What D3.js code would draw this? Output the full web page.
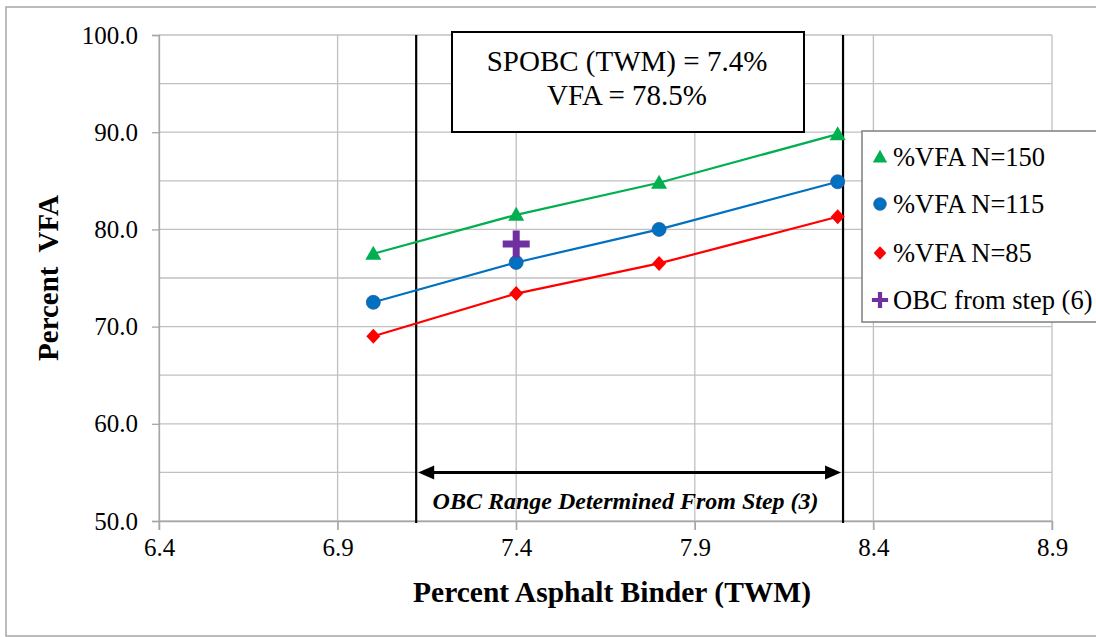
<!DOCTYPE html>
<html><head><meta charset="utf-8">
<script src="https://cdn.jsdelivr.net/npm/d3@7"></script>
<style>body{margin:0;background:#fff}svg{display:block}</style>
</head><body>
<svg id="c" width="1096" height="637" font-family="Liberation Serif"></svg>
<script>
const binder = [7.0, 7.4, 7.8, 8.3];
const vfa150 = [77.5, 81.5, 84.8, 89.8];
const vfa115 = [72.5, 76.6, 80.0, 84.9];
const vfa85 = [69.0, 73.4, 76.5, 81.3];
const obcPoint = [{x: 7.4, y: 78.5}];
const obcRange = [7.12, 8.315];
const xTicks = [6.4, 6.9, 7.4, 7.9, 8.4, 8.9];
const yTicks = [50, 60, 70, 80, 90, 100];
const yGrid = [55, 65, 75, 85, 95];
const seriesNames = ["%VFA N=150", "%VFA N=115", "%VFA N=85", "OBC from step (6)"];
const annotation = ["SPOBC (TWM) = 7.4%", "VFA = 78.5%"];
const rangeLabel = "OBC Range Determined From Step (3)";

const FONT = "Liberation Serif";
const svg = d3.select("#c");
const x = d3.scaleLinear().domain([6.4, 8.9]).range([159, 1052]);
const y = d3.scaleLinear().domain([50, 100]).range([521, 35]);
const gridC = "#c0c0c0";

// outer border
svg.append("rect").attr("x", 6).attr("y", 7).attr("width", 1100).attr("height", 629)
  .attr("fill", "none").attr("stroke", "#a6a6a6").attr("stroke-width", 1.5);

// gridlines
svg.append("g").selectAll("line").data(yTicks.concat(yGrid)).join("line")
  .attr("x1", x(6.4)).attr("x2", x(8.9)).attr("y1", d => y(d)).attr("y2", d => y(d))
  .attr("stroke", gridC).attr("stroke-width", 1.3);
svg.append("g").selectAll("line").data(xTicks).join("line")
  .attr("x1", d => x(d)).attr("x2", d => x(d)).attr("y1", y(100)).attr("y2", y(50) + 9)
  .attr("stroke", gridC).attr("stroke-width", 1.3);

// axes
const yAxis = d3.axisLeft(y).tickValues(yTicks).tickSize(7).tickFormat(d3.format(".1f"));
const gy = svg.append("g").attr("transform", `translate(${x(6.4)},0)`).call(yAxis).attr("font-family", FONT);
gy.select(".domain").attr("stroke", "#a6a6a6").attr("stroke-width", 1.3);
gy.selectAll(".tick line").attr("stroke", "#a6a6a6").attr("stroke-width", 1.3);
gy.selectAll(".tick text").attr("font-size", 25).attr("x", -21).attr("font-family", FONT).attr("fill", "#000");

const xAxis = d3.axisBottom(x).tickValues(xTicks).tickSize(9).tickFormat(d3.format(".1f"));
const gx = svg.append("g").attr("transform", `translate(0,${y(50)})`).call(xAxis).attr("font-family", FONT);
gx.select(".domain").attr("stroke", "#a6a6a6").attr("stroke-width", 1.3);
gx.selectAll(".tick line").attr("stroke", "#a6a6a6").attr("stroke-width", 1.3);
gx.selectAll(".tick text").attr("font-size", 25).attr("y", 17).attr("font-family", FONT).attr("fill", "#000");

// range vertical lines
svg.append("g").selectAll("line").data(obcRange).join("line")
  .attr("x1", d => x(d)).attr("x2", d => x(d)).attr("y1", y(100)).attr("y2", y(50) + 2)
  .attr("stroke", "#000").attr("stroke-width", 2.2);

// arrow
const ay = y(55);
const ax1 = x(obcRange[0]) + 2, ax2 = x(obcRange[1]) - 2;
svg.append("line").attr("x1", ax1 + 12).attr("x2", ax2 - 12).attr("y1", ay).attr("y2", ay)
  .attr("stroke", "#000").attr("stroke-width", 3);
svg.append("path").attr("d", `M${ax1},${ay}L${ax1 + 16},${ay - 7}L${ax1 + 16},${ay + 7}Z`).attr("fill", "#000");
svg.append("path").attr("d", `M${ax2},${ay}L${ax2 - 16},${ay - 7}L${ax2 - 16},${ay + 7}Z`).attr("fill", "#000");
svg.append("text").attr("x", (x(obcRange[0]) + x(obcRange[1])) / 2 - 4).attr("y", 509)
  .attr("text-anchor", "middle").attr("font-family", FONT).attr("font-size", 24).attr("font-weight", "bold").attr("font-style", "italic")
  .text(rangeLabel);

// series
const series = [
  {vals: vfa150, color: "#00b050", shape: "tri"},
  {vals: vfa115, color: "#0070c0", shape: "circ"},
  {vals: vfa85, color: "#ff0000", shape: "diam"}
];
const line = d3.line().x(d => x(d[0])).y(d => y(d[1]));
function marker(g, shape, color, cx, cy, s) {
  if (shape === "tri") {
    g.append("path").attr("d", `M${cx},${cy - 8 * s}L${cx + 8 * s},${cy + 6 * s}L${cx - 8 * s},${cy + 6 * s}Z`).attr("fill", color);
  } else if (shape === "circ") {
    g.append("circle").attr("cx", cx).attr("cy", cy).attr("r", 7 * s).attr("fill", color).attr("stroke", "#2e5fa0").attr("stroke-width", 0.8);
  } else if (shape === "diam") {
    g.append("path").attr("d", `M${cx},${cy - 7.5 * s}L${cx + 7 * s},${cy}L${cx},${cy + 7.5 * s}L${cx - 7 * s},${cy}Z`).attr("fill", color);
  } else if (shape === "plus") {
    const a = 13.5 * s, b = 3.5 * s;
    g.append("path").attr("d", `M${cx - b},${cy - a}H${cx + b}V${cy - b}H${cx + a}V${cy + b}H${cx + b}V${cy + a}H${cx - b}V${cy + b}H${cx - a}V${cy - b}H${cx - b}Z`).attr("fill", color);
  }
}
series.forEach(s => {
  const pts = binder.map((b, i) => [b, s.vals[i]]);
  svg.append("path").attr("d", line(pts)).attr("fill", "none").attr("stroke", s.color).attr("stroke-width", 2.2);
});
series.forEach(s => {
  const g = svg.append("g");
  binder.forEach((b, i) => marker(g, s.shape, s.color, x(b), y(s.vals[i]), 1));
});
obcPoint.forEach(p => marker(svg.append("g"), "plus", "#7030a0", x(p.x), y(p.y), 1));

// annotation box
svg.append("rect").attr("x", 452).attr("y", 32).attr("width", 352).attr("height", 100)
  .attr("fill", "#fff").attr("stroke", "#000").attr("stroke-width", 2);
svg.append("g").selectAll("text").data(annotation).join("text")
  .attr("x", 627).attr("y", (d, i) => 71 + i * 34).attr("text-anchor", "middle")
  .attr("font-family", FONT).attr("font-size", 29)
  .text(d => d);

// legend
svg.append("rect").attr("x", 862).attr("y", 131).attr("width", 250).attr("height", 191)
  .attr("fill", "#fff").attr("stroke", "#7f7f7f").attr("stroke-width", 1.5);
const legShapes = [["tri", "#00b050"], ["circ", "#0070c0"], ["diam", "#ff0000"], ["plus", "#7030a0"]];
const legY = [157, 204, 253, 300];
seriesNames.forEach((n, i) => {
  marker(svg.append("g"), legShapes[i][0], legShapes[i][1], 880, legY[i], i === 3 ? 0.6 : 0.9);
  svg.append("text").attr("x", 893).attr("y", legY[i] + 9).attr("font-family", FONT).attr("font-size", 26.5).text(n);
});

// axis titles
svg.append("text").attr("x", 612).attr("y", 602).attr("text-anchor", "middle")
  .attr("font-family", FONT).attr("font-size", 29.5).attr("font-weight", "bold").text("Percent Asphalt Binder (TWM)");
svg.append("text").attr("transform", "translate(58,278) rotate(-90)").attr("text-anchor", "middle")
  .attr("font-family", FONT).attr("font-size", 29).attr("font-weight", "bold")
  .attr("xml:space", "preserve").style("white-space", "pre").text("Percent  VFA");
</script>
</body></html>
